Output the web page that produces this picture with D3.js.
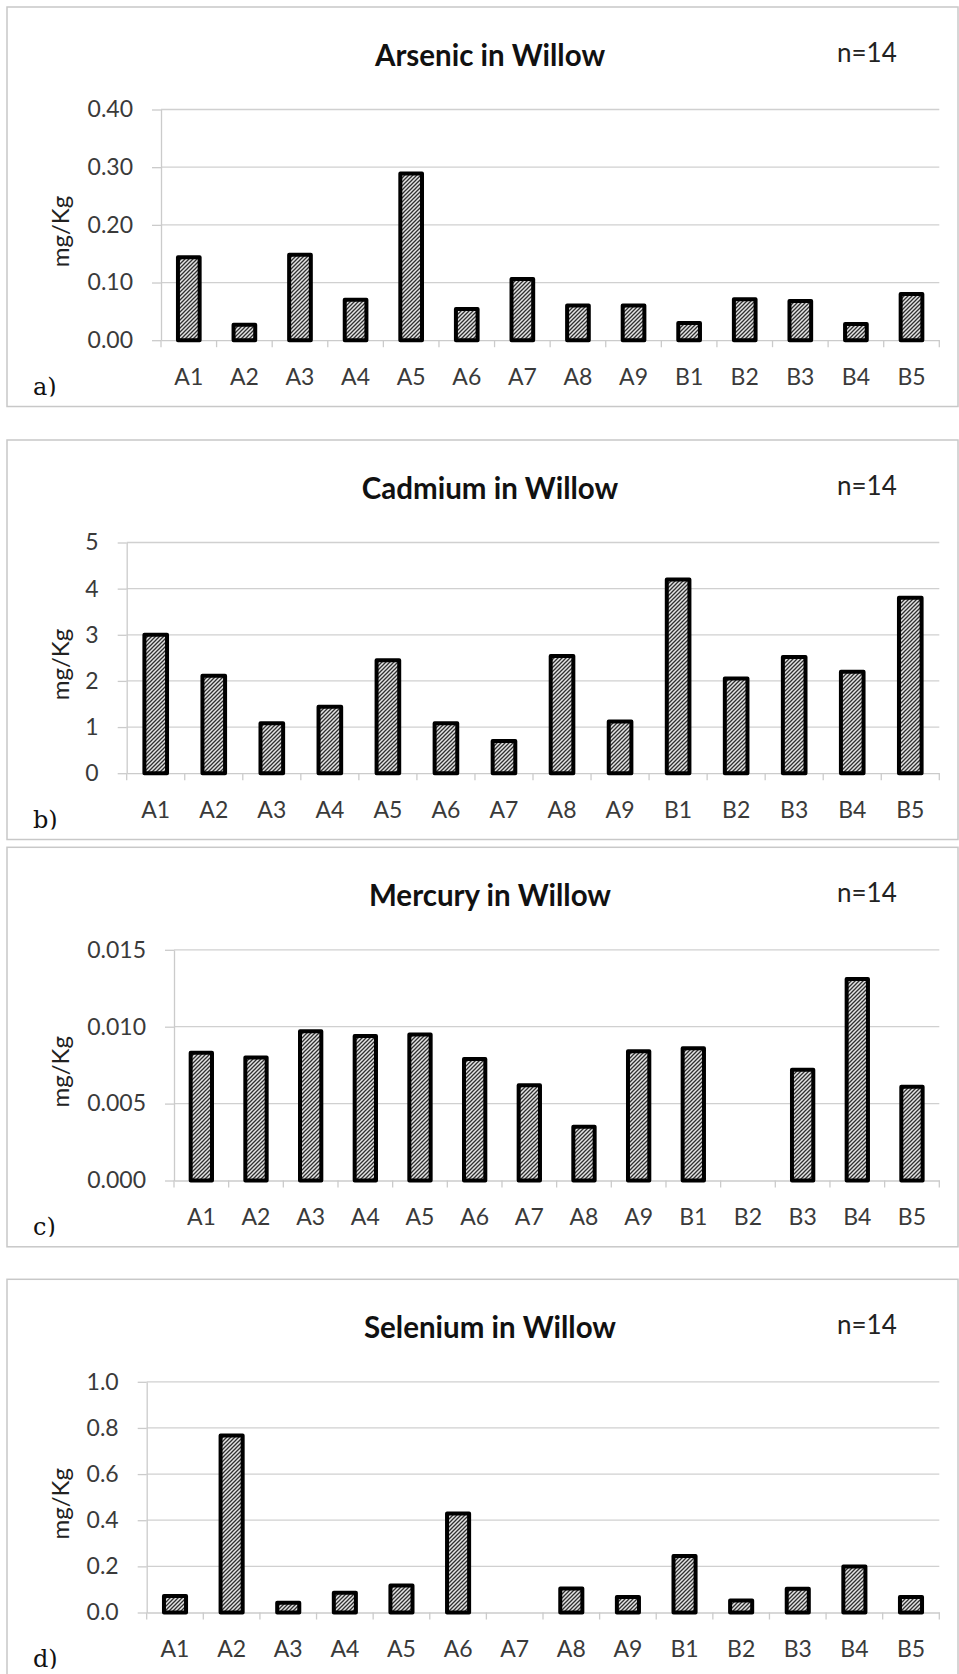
<!DOCTYPE html>
<html><head><meta charset="utf-8">
<script src="https://cdn.jsdelivr.net/npm/d3@7"></script>
<style>body{margin:0;background:#fff} svg{display:block}</style>
</head><body>
<script>
// ---------- data ----------
const categories = ["A1","A2","A3","A4","A5","A6","A7","A8","A9","B1","B2","B3","B4","B5"];
const arsenicValues  = [0.144,0.027,0.148,0.070,0.289,0.054,0.106,0.060,0.060,0.030,0.071,0.068,0.028,0.080];
const cadmiumValues  = [3.00,2.11,1.08,1.44,2.45,1.08,0.70,2.54,1.12,4.20,2.05,2.52,2.20,3.80];
const mercuryValues  = [0.0083,0.0080,0.0097,0.0094,0.0095,0.0079,0.0062,0.0035,0.0084,0.0086,0,0.0072,0.0131,0.0061];
const seleniumValues = [0.071,0.767,0.042,0.086,0.117,0.429,0,0.104,0.067,0.245,0.052,0.103,0.199,0.067];
const arsenicTicks  = [0,0.1,0.2,0.3,0.4];
const cadmiumTicks  = [0,1,2,3,4,5];
const mercuryTicks  = [0,0.005,0.010,0.015];
const seleniumTicks = [0,0.2,0.4,0.6,0.8,1.0];
const titles = ["Arsenic in Willow","Cadmium in Willow","Mercury in Willow","Selenium in Willow"];
const panelLabels = ["a)","b)","c)","d)"];
const tickFormats = [".2f","d",".3f",".1f"];
const sampleNote = "n=14";
const yAxisTitle = "mg/Kg";

// ---------- layout ----------
const W = 959, H = 1674;
const boxTops = [7, 440, 847.3, 1279.3];
const plotLefts = [161, 126.7, 174, 146.7];
const plotRight = 939.3;
const seriesList = [arsenicValues, cadmiumValues, mercuryValues, seleniumValues];
const tickList = [arsenicTicks, cadmiumTicks, mercuryTicks, seleniumTicks];

const svg = d3.select("body").append("svg").attr("width", W).attr("height", H);
const defs = svg.append("defs");
const pat = defs.append("pattern").attr("id","hatch")
  .attr("patternUnits","userSpaceOnUse").attr("width",4).attr("height",4);
pat.append("rect").attr("width",4).attr("height",4).attr("fill","#e4e4e4");
pat.append("path").attr("d","M-1,1 L1,-1 M0,4 L4,0 M3,5 L5,3")
  .attr("stroke","#303030").attr("stroke-width",1.3);

const font = "Lato, 'Open Sans', sans-serif";

seriesList.forEach((vals, i) => {
  const top = boxTops[i];
  const ticks = tickList[i];
  const g = svg.append("g");

  g.append("rect").attr("x",7).attr("y",top).attr("width",951).attr("height",399.5)
    .attr("fill","#fff").attr("stroke","#c8c8c8").attr("stroke-width",1.5);

  const plotTop = top + 102.5, plotBottom = top + 333.2;
  const x = d3.scaleBand().domain(categories).range([plotLefts[i], plotRight]).padding(0);
  const y = d3.scaleLinear().domain([0, d3.max(ticks)]).range([plotBottom, plotTop]);

  // gridlines
  g.append("g").selectAll("line").data(ticks.slice(1)).join("line")
    .attr("x1", plotLefts[i]).attr("x2", plotRight)
    .attr("y1", d => y(d)).attr("y2", d => y(d))
    .attr("stroke","#d0d0d0").attr("stroke-width",1.3);

  // y axis
  const ya = g.append("g").attr("transform",`translate(${plotLefts[i]},0)`)
    .call(d3.axisLeft(y).tickValues(ticks).tickFormat(d3.format(tickFormats[i]))
      .tickSize(9).tickSizeOuter(0).tickPadding(19));
  ya.select(".domain").attr("stroke","#cbcbcb").attr("stroke-width",1.3);
  ya.selectAll(".tick line").attr("stroke","#cbcbcb").attr("stroke-width",1.3);
  ya.selectAll("text").attr("font-family",font).attr("font-size",23).attr("fill","#3a3a3a");

  // x axis (labels) + boundary ticks
  const xa = g.append("g").attr("transform",`translate(0,${plotBottom})`)
    .call(d3.axisBottom(x).tickSize(0).tickSizeOuter(0).tickPadding(28));
  xa.select(".domain").attr("stroke","#cbcbcb").attr("stroke-width",1.3);
  xa.selectAll("text").attr("font-family",font).attr("font-size",23).attr("fill","#3a3a3a");
  const bounds = categories.map(c => x(c)).concat([x.range()[1]]);
  g.append("g").selectAll("line").data(bounds).join("line")
    .attr("x1", d => d).attr("x2", d => d)
    .attr("y1", plotBottom).attr("y2", plotBottom + 7)
    .attr("stroke","#cbcbcb").attr("stroke-width",1.3);

  // bars
  const bw = x.bandwidth() * 0.39;
  g.append("g").selectAll("rect")
    .data(categories.map((c, k) => ({c, v: vals[k]})).filter(d => d.v > 0))
    .join("rect")
    .attr("x", d => x(d.c) + (x.bandwidth() - bw) / 2)
    .attr("width", bw)
    .attr("y", d => y(d.v))
    .attr("height", d => y(0) - y(d.v))
    .attr("fill","url(#hatch)")
    .attr("stroke","#000").attr("stroke-width",4).attr("stroke-linejoin","round");

  // title
  g.append("text").attr("x",490).attr("y",top + 58.5).attr("text-anchor","middle")
    .attr("font-family",font).attr("font-weight","bold").attr("font-size",29.5)
    .attr("fill","#111").text(titles[i]);
  // n note
  g.append("text").attr("x",837).attr("y",top + 55)
    .attr("font-family",font).attr("font-size",26).attr("fill","#222").text(sampleNote);
  // y axis title
  g.append("text").attr("transform",`translate(69,${plotTop + 122}) rotate(-90)`)
    .attr("text-anchor","middle").attr("font-family",font).attr("font-size",24)
    .attr("fill","#222").text(yAxisTitle);
  // panel label (clipped at bottom)
  const cid = "clip" + i;
  defs.append("clipPath").attr("id",cid).append("rect")
    .attr("x",20).attr("y",top + 340).attr("width",80).attr("height",49.5);
  g.append("text").attr("x",33).attr("y",top + 388).attr("clip-path",`url(#${cid})`)
    .attr("font-family","'DejaVu Serif', serif").attr("font-size",24)
    .attr("fill","#111").text(panelLabels[i]);
});
</script>
</body></html>
